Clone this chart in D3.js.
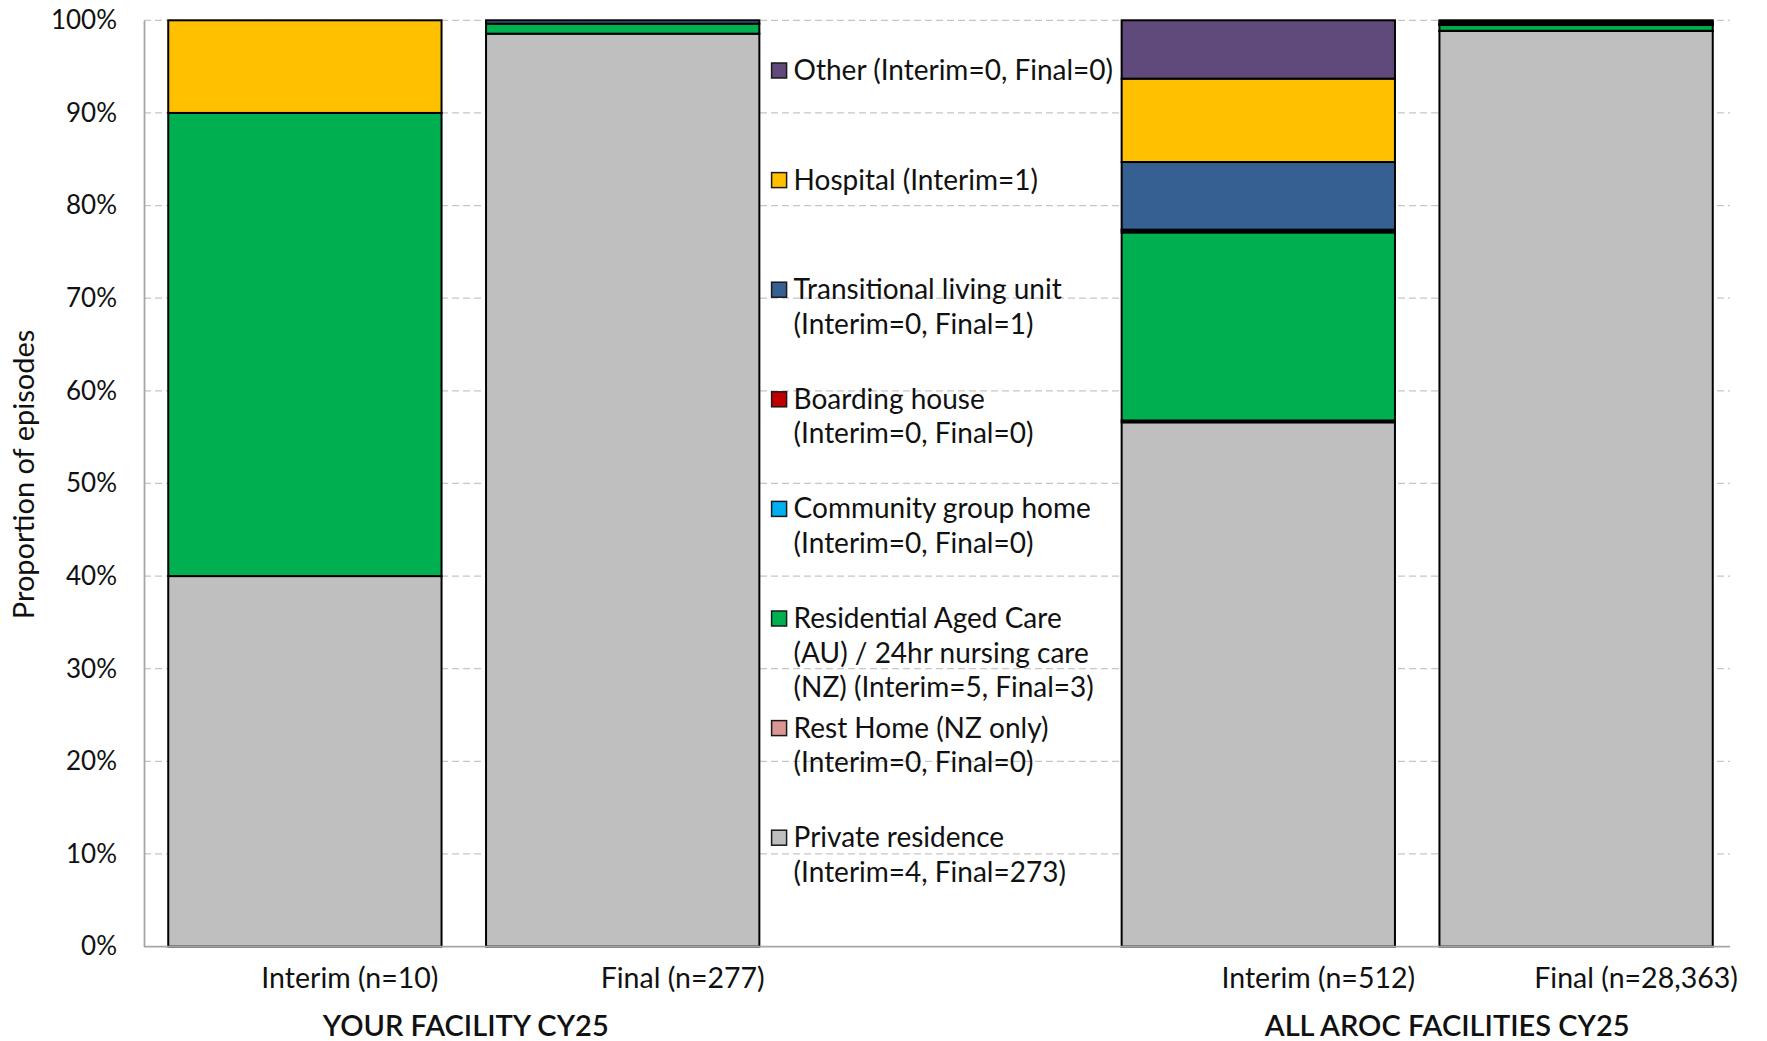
<!DOCTYPE html>
<html>
<head>
<meta charset="utf-8">
<script src="https://cdn.jsdelivr.net/npm/d3@7"></script>
<style>
  html, body { margin: 0; padding: 0; background: #fff; }
  svg { display: block; }
  text { font-family: "Lato", "Open Sans", sans-serif; fill: #111; }
</style>
</head>
<body>
<svg id="chart" width="1767" height="1041"></svg>
<script>
// Discharge destinations, stacked bottom to top
const destinations = [
  "Private residence",
  "Rest Home (NZ only)",
  "Residential Aged Care",
  "Community group home",
  "Boarding house",
  "Transitional living unit",
  "Hospital",
  "Other"
];
const destColors = ["#BFBFBF", "#DA9694", "#00B050", "#00B0F0", "#C00000", "#376092", "#FFC000", "#604A7B"];

// Episode counts for the facility (same order as destinations)
const facilityInterim = [4, 0, 5, 0, 0, 0, 1, 0];
const facilityFinal   = [273, 0, 3, 0, 0, 1, 0, 0];

// Percent of episodes, all AROC facilities
const arocInterimPct = [56.6, 0.2, 20.3, 0.2, 0.1, 7.3, 9.0, 6.3];
const arocFinalPct   = [98.85, 0.02, 0.62, 0.05, 0.02, 0.12, 0.2, 0.12];

// Category slots; the blank middle slot holds the legend
const categories = ["Interim (n=10)", "Final (n=277)", "", "Interim (n=512)", "Final (n=28,363)"];
const groups = [
  { label: "YOUR FACILITY CY25", from: 0, to: 1 },
  { label: "ALL AROC FACILITIES CY25", from: 3, to: 4 }
];

const yTicks = [0, 10, 20, 30, 40, 50, 60, 70, 80, 90, 100];

// Legend text, top to bottom (destination index + lines)
const legendItems = [
  { d: 7, lines: ["Other (Interim=0, Final=0)"] },
  { d: 6, lines: ["Hospital (Interim=1)"] },
  { d: 5, lines: ["Transitional living unit", "(Interim=0, Final=1)"] },
  { d: 4, lines: ["Boarding house", "(Interim=0, Final=0)"] },
  { d: 3, lines: ["Community group home", "(Interim=0, Final=0)"] },
  { d: 2, lines: ["Residential Aged Care", "(AU) / 24hr nursing care", "(NZ) (Interim=5, Final=3)"] },
  { d: 1, lines: ["Rest Home (NZ only)", "(Interim=0, Final=0)"] },
  { d: 0, lines: ["Private residence", "(Interim=4, Final=273)"] }
];

const toPct = counts => { const t = d3.sum(counts); return counts.map(c => c / t * 100); };
const columns = [
  { cat: categories[0], values: toPct(facilityInterim) },
  { cat: categories[1], values: toPct(facilityFinal) },
  { cat: categories[3], values: arocInterimPct },
  { cat: categories[4], values: arocFinalPct }
];

const svg = d3.select("#chart");
const axisLeftX = 144, axisRightX = 1730, plotTop = 20.3, plotBottom = 946.6;

const x = d3.scaleBand().domain(categories).range([146, 1735]).paddingInner(0.14).paddingOuter(0.07);
const y = d3.scaleLinear().domain([0, 100]).range([plotBottom, plotTop]);
const step = x.step();

// Gridlines
svg.append("g").selectAll("line")
  .data(yTicks.filter(t => t > 0))
  .join("line")
  .attr("x1", axisLeftX).attr("x2", axisRightX)
  .attr("y1", d => y(d)).attr("y2", d => y(d))
  .attr("stroke", "#C6C6C6").attr("stroke-width", 1.3)
  .attr("stroke-dasharray", "7,4");

// Stacked bars
const stackRows = columns.map(c => {
  const row = { cat: c.cat };
  destinations.forEach((d, i) => row[i] = c.values[i]);
  return row;
});
const series = d3.stack().keys(destinations.map((d, i) => i))(stackRows);

const barG = svg.append("g");
series.forEach((s, si) => {
  barG.append("g").selectAll("rect")
    .data(s.filter(p => p[1] - p[0] > 0))
    .join("rect")
    .attr("x", p => x(p.data.cat))
    .attr("width", x.bandwidth())
    .attr("y", p => y(p[1]))
    .attr("height", p => y(p[0]) - y(p[1]))
    .attr("fill", destColors[si])
    .attr("stroke", "#000")
    .attr("stroke-width", 2);
});

// Axes
const yAxis = svg.append("g").attr("transform", `translate(${axisLeftX},0)`)
  .call(d3.axisLeft(y).tickValues(yTicks).tickFormat(d => d + "%").tickSize(0).tickPadding(27));
yAxis.select(".domain").attr("stroke", "#A6A6A6").attr("stroke-width", 1.8);
yAxis.selectAll("text").attr("font-size", 26).attr("fill", "#111")
  .style("font-family", "Lato, 'Open Sans', sans-serif");

svg.append("line")
  .attr("x1", axisLeftX).attr("x2", axisRightX)
  .attr("y1", y(0)).attr("y2", y(0))
  .attr("stroke", "#A6A6A6").attr("stroke-width", 1.8);

// Category labels
svg.append("g").selectAll("text")
  .data(categories.filter(c => c))
  .join("text")
  .attr("x", (c, i) => x(c) + x.bandwidth() / 2 + (i === 0 ? 45 : 60))
  .attr("y", 988)
  .attr("text-anchor", "middle")
  .attr("font-size", 28.5)
  .text(c => c);

// Group labels
svg.append("g").selectAll("text")
  .data(groups)
  .join("text")
  .attr("x", (g, i) => (x(categories[g.from]) + x(categories[g.to]) + x.bandwidth()) / 2 + (i === 0 ? 2 : 30))
  .attr("y", 1036)
  .attr("text-anchor", "middle")
  .attr("font-size", 29)
  .attr("font-weight", 600)
  .text(g => g.label);

// Y axis title
svg.append("text")
  .attr("transform", `translate(34,${(plotTop + plotBottom) / 2 - 9}) rotate(-90)`)
  .attr("text-anchor", "middle")
  .attr("font-size", 29)
  .text("Proportion of episodes");

// Legend in the blank slot
const lgX = x("") - step * 0.07 - 10;
const lgTop = 80, lgStep = 109.6, lineH = 34.6;
const lg = svg.append("g");
legendItems.forEach((it, i) => {
  const base = lgTop + i * lgStep;
  lg.append("rect")
    .attr("x", lgX).attr("y", base - 17)
    .attr("width", 15).attr("height", 15)
    .attr("fill", destColors[it.d])
    .attr("stroke", "#1a1a1a").attr("stroke-width", 1.5);
  it.lines.forEach((ln, j) => {
    lg.append("text")
      .attr("x", lgX + 22).attr("y", base + j * lineH)
      .attr("font-size", 28)
      .text(ln);
  });
});
</script>
</body>
</html>
